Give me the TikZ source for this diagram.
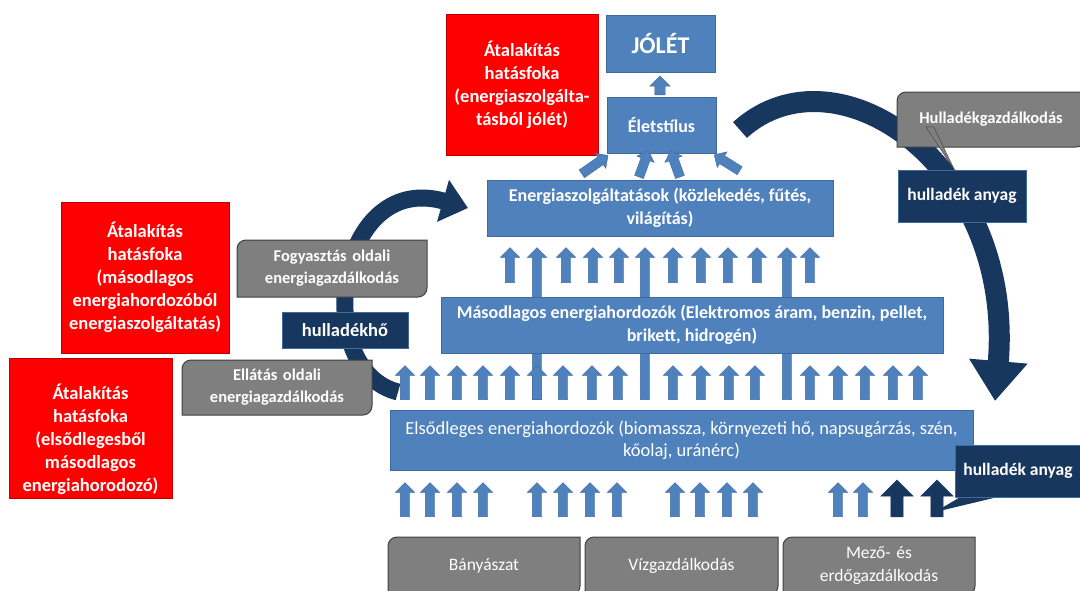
\documentclass[tikz,border=0pt]{standalone}
\usepackage{fontspec}
\setmainfont{Carlito}
\usetikzlibrary{shapes.arrows, arrows.meta}

\definecolor{boxblue}{RGB}{79,129,189}
\definecolor{edgeblue}{RGB}{62,106,160}
\definecolor{navy}{RGB}{23,55,94}
\definecolor{boxgray}{RGB}{127,127,127}
\definecolor{edgegray}{RGB}{64,64,64}
\definecolor{effred}{RGB}{255,0,0}

% grey box, rounded top left and bottom right
\newcommand{\roundbox}[6][]{%
  \draw[grayframe] (#3) ++(-#4/2,-#5/2) -- ++(0,#5-9) arc[start angle=180, end angle=90, radius=9]
    -- ++(#4-9,0) -- ++(0,-#5+9) arc[start angle=0, end angle=-90, radius=9] -- cycle;
  \node[graytext, text width=#4pt, #1] (#2) at (#3) {#6};
}

\begin{document}
\begin{tikzpicture}[x=1pt, y=1pt,
    bluebox/.style={rectangle, draw=edgeblue, fill=boxblue, text=white, align=center, inner sep=0pt, font=\fontsize{18}{23}\selectfont\bfseries},
    redbox/.style={rectangle, draw=red!75!black, fill=effred, text=white, align=center, inner sep=0pt, font=\fontsize{18.5}{23}\selectfont\bfseries},
    redtext/.style={text=white, align=center, inner sep=0pt, font=\fontsize{18.5}{23}\selectfont\bfseries},
    navybox/.style={rectangle, draw=edgeblue, fill=navy, text=white, align=center, inner sep=0pt, font=\fontsize{17.5}{22}\selectfont\bfseries},
    graytext/.style={text=white, align=center, inner sep=0pt, font=\fontsize{16.5}{22}\selectfont\bfseries},
    grayframe/.style={draw=edgegray, fill=boxgray, line width=1pt},
    blockarrow/.style={single arrow, draw=edgeblue, fill=boxblue, inner sep=4.5pt, single arrow head extend=5pt, minimum height=34pt},
    uparrow/.style={blockarrow, rotate=90},
    bigarc/.style={draw=navy, line width=21pt},
]
\useasboundingbox (0,0) rectangle (1080,-590);

% the two loops
\coordinate (rtail) at (740,-130);
\coordinate (rtip) at (995,-401);
\coordinate (ltail) at (398,-392);
\coordinate (ltip) at (468,-208);
\draw[bigarc, -{Triangle[length=40pt, width=56pt]}] (rtail) .. controls (836,-43) and (1015,-165) .. (rtip);
\draw[bigarc, line width=17pt, -{Triangle[length=26pt, width=42pt]}] (ltail) .. controls (310,-370) and (335,-170) .. (ltip);

% long arrows behind the boxes
\foreach \x in {537,645,787}
  \node[uparrow, minimum height=152pt] (la\x) at (\x,-326) {};

\node[redbox, minimum width=152pt, minimum height=141pt] (eff1) at (522,-84.5) {Átalakítás\\hatásfoka\\(energiaszolgálta-\\tásból jólét)};
\node[redbox, minimum width=168pt, minimum height=151pt] (eff2) at (145,-277.5) {Átalakítás\\hatásfoka\\(másodlagos\\energiahordozóból\\energiaszolgáltatás)};
\node[redbox, minimum width=163pt, minimum height=140pt] (eff3) at (90.5,-428) {};
\node[redtext] (eff3t) at (90.5,-439) {Átalakítás\\hatásfoka\\(elsődlegesből\\másodlagos\\energiahorodozó)};

\node[bluebox, minimum width=109pt, minimum height=57pt, font=\fontsize{24}{30}\selectfont\bfseries] (jolet) at (660.5,-43.5) {JÓLÉT};
\node[bluebox, minimum width=109pt, minimum height=56pt] (elet) at (661.5,-125) {Életstílus};
\node[bluebox, minimum width=346pt, minimum height=56pt] (szolg) at (660,-208) {Energiaszolgáltatások (közlekedés, fűtés,\\világítás)};
\node[bluebox, minimum width=502pt, minimum height=56pt] (masod) at (692,-325) {Másodlagos energiahordozók (Elektromos áram, benzin, pellet,\\brikett, hidrogén)};
\node[bluebox, minimum width=583pt, minimum height=60pt, font=\fontsize{18.5}{22}\selectfont] (elsod) at (681.5,-440) {Elsődleges energiahordozók (biomassza, környezeti hő, napsugárzás, szén,\\kőolaj, uránérc)};

\node[uparrow, minimum height=19pt, inner sep=5pt] (upj) at (660,-88) {};
\node[blockarrow, rotate=35, minimum height=32pt, single arrow head extend=4.5pt] (d1) at (593,-166) {};
\node[blockarrow, rotate=70, minimum height=28pt, single arrow head extend=4.5pt] (d2) at (643,-166) {};
\node[blockarrow, rotate=110, minimum height=28pt, single arrow head extend=4.5pt] (d3) at (676,-166) {};
\node[blockarrow, rotate=148, minimum height=30pt, single arrow head extend=4.5pt] (d4) at (729,-164) {};

\foreach \x in {510,566,593,619,673,701,728,757,810}
  \node[uparrow, minimum height=35pt] (ta\x) at (\x,-267.5) {};
\foreach \x in {405,430,457,483,510,537,563,592,618,673,701,729,755,810,838,865,893,918}
  \node[uparrow] (ma\x) at (\x,-385) {};
\foreach \x in {405,430,457,483,537,563,590,617,675,700,727,753,838,863}
  \node[uparrow] (ba\x) at (\x,-502) {};
\foreach \x in {897,937}
  \node[uparrow, draw=navy, fill=navy, inner sep=6pt, single arrow head extend=10pt, minimum height=37pt] (da\x) at (\x,-501.5) {};

\roundbox{fogy}{332,-268.5}{190}{57}{Fogyasztás oldali\\energiagazdálkodás}
\node[navybox, minimum width=126pt, minimum height=36pt, font=\fontsize{18.5}{22}\selectfont\bfseries] (hoho) at (345,-330) {hulladékhő};
\roundbox{ellat}{277,-387.5}{190}{55}{Ellátás oldali\\energiagazdálkodás}

\roundbox{hgazd}{991,-119.5}{188}{55}{Hulladékgazdálkodás}
\coordinate (p1) at (955,-171);
\filldraw[draw=edgegray, fill=boxgray] ([xshift=29pt]hgazd.south west) -- ([xshift=37pt]hgazd.south west) -- (p1) -- cycle;
\node[navybox, minimum width=128pt, minimum height=52pt] (hany1) at (962,-196) {hulladék anyag};

\coordinate (p2) at (935,-512);
\fill[navy] (962,-496) -- (1002,-496) -- (p2) -- cycle;
\node[navybox, minimum width=126pt, minimum height=52pt] (hany2) at (1018,-471) {hulladék anyag};

\roundbox[font=\fontsize{17.5}{23}\selectfont]{banya}{484,-566}{192}{58}{Bányászat}
\roundbox[font=\fontsize{17.5}{23}\selectfont]{viz}{681.5,-566}{193}{58}{Vízgazdálkodás}
\roundbox[font=\fontsize{17.5}{23}\selectfont]{mezo}{879,-566}{192}{58}{Mező- és\\erdőgazdálkodás}
\end{tikzpicture}
\end{document}
